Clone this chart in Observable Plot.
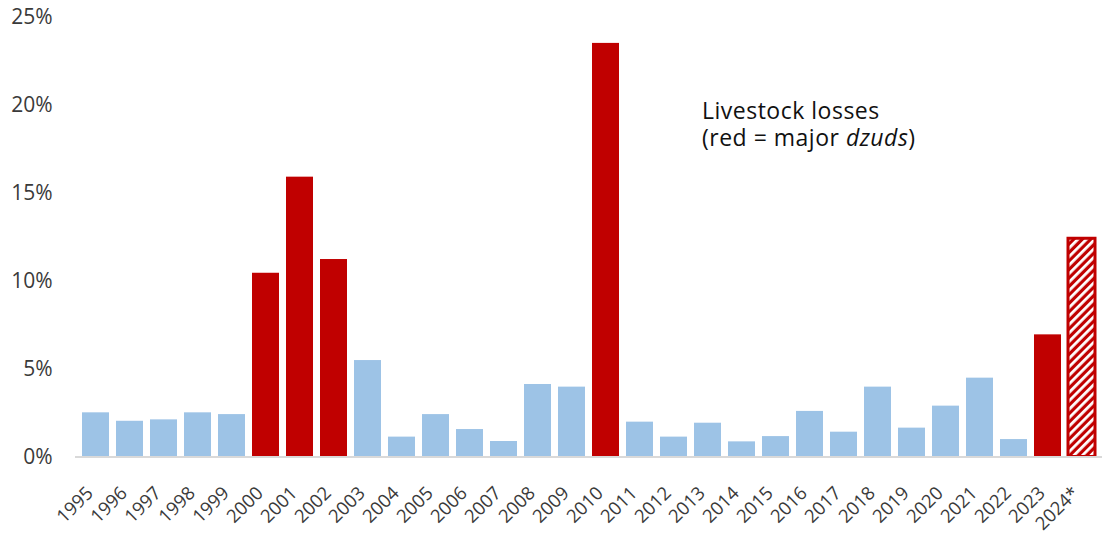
<!DOCTYPE html>
<html><head><meta charset="utf-8">
<script src="https://cdn.jsdelivr.net/npm/d3@7"></script>
<script src="https://cdn.jsdelivr.net/npm/@observablehq/plot@0.6"></script>
<style>
body{margin:0;background:#fff}
#chart{position:relative;width:1119px;height:537px;overflow:hidden}
</style>
</head><body><div id="chart"></div>
<script>
// Data
const years = ["1995","1996","1997","1998","1999","2000","2001","2002","2003","2004","2005","2006","2007","2008","2009","2010","2011","2012","2013","2014","2015","2016","2017","2018","2019","2020","2021","2022","2023","2024*"];
const losses = [2.51,2.03,2.11,2.51,2.41,10.44,15.9,11.22,5.48,1.13,2.41,1.56,0.88,4.12,3.97,23.5,1.98,1.13,1.92,0.86,1.16,2.59,1.41,3.97,1.64,2.89,4.48,0.99,6.94,12.4];
const majorDzud = [false,false,false,false,false,true,true,true,false,false,false,false,false,false,false,true,false,false,false,false,false,false,false,false,false,false,false,false,true,true];
const provisional = years.map(y => y.endsWith("*"));
const yTicks = [0,5,10,15,20,25];
const noteLines = ["Livestock losses", "(red = major dzuds)"];

const data = years.map((year, i) => ({year, loss: losses[i], major: majorDzud[i], provisional: provisional[i]}));

const blue = "#9dc3e6", red = "#c00000";
const axisFont = "'Open Sans', 'Noto Sans', sans-serif";

const plot = Plot.plot({
  width: 1119,
  height: 537,
  marginTop: 16.5,
  marginBottom: 80.5,
  marginLeft: 75,
  marginRight: 17,
  style: {fontFamily: axisFont, fontSize: "20px", color: "#3a3a3a", background: "#fff"},
  x: {domain: years, padding: 0.2, label: null},
  y: {domain: [0, 25], label: null},
  marks: [
    Plot.barY(data, {filter: d => !d.major, x: "year", y: "loss", fill: blue}),
    Plot.barY(data, {filter: d => d.major && !d.provisional, x: "year", y: "loss", fill: red}),
    Plot.barY(data, {filter: d => d.provisional, x: "year", y: "loss", fill: "url(#hatch24)", stroke: red, strokeWidth: 3, inset: 0}),
    Plot.ruleY([0], {stroke: "#d9d9d9", strokeWidth: 2}),
    Plot.axisY({ticks: yTicks, tickSize: 0, tickPadding: 23, tickFormat: d => d + "%", fontSize: 21}),
    Plot.axisX({tickSize: 0, tickPadding: 33, tickRotate: -45, fontSize: 18.5, dx: -6}),
    Plot.text([noteLines.join("\n")], {x: () => "2013", y: () => 18.95, text: d => d, textAnchor: "start", lineAnchor: "middle", lineHeight: 1.2, dx: -6, fontSize: 23, fill: "#111", fontFamily: "'Open Sans', sans-serif", className: "note"})
  ]
});

// hatch pattern for the provisional bar
const svg = d3.select(plot);
const defs = svg.insert("defs", ":first-child");
const pat = defs.append("pattern")
  .attr("id", "hatch24").attr("patternUnits", "userSpaceOnUse")
  .attr("width", 6).attr("height", 6)
  .attr("patternTransform", "rotate(45)");
pat.append("rect").attr("width", 6).attr("height", 6).attr("fill", red);
pat.append("rect").attr("x", 0).attr("width", 2.8).attr("height", 6).attr("fill", "#fff");

svg.selectAll(".note text").attr("letter-spacing", "0.5px");

// italic "dzuds" as sibling tspans on the second line
svg.selectAll(".note tspan").each(function() {
  const s = this.textContent;
  const i = s.indexOf("dzuds");
  if (i < 0) return;
  const parent = this.parentNode;
  const ns = "http://www.w3.org/2000/svg";
  const a = document.createElementNS(ns, "tspan");
  for (const attr of Array.from(this.attributes)) a.setAttribute(attr.name, attr.value);
  a.textContent = s.slice(0, i);
  const b = document.createElementNS(ns, "tspan");
  b.setAttribute("font-style", "italic");
  b.textContent = "dzuds";
  const c = document.createElementNS(ns, "tspan");
  c.textContent = s.slice(i + 5);
  parent.insertBefore(a, this);
  parent.insertBefore(b, this);
  parent.insertBefore(c, this);
  parent.removeChild(this);
});

document.getElementById("chart").appendChild(plot);
</script>
</body></html>
